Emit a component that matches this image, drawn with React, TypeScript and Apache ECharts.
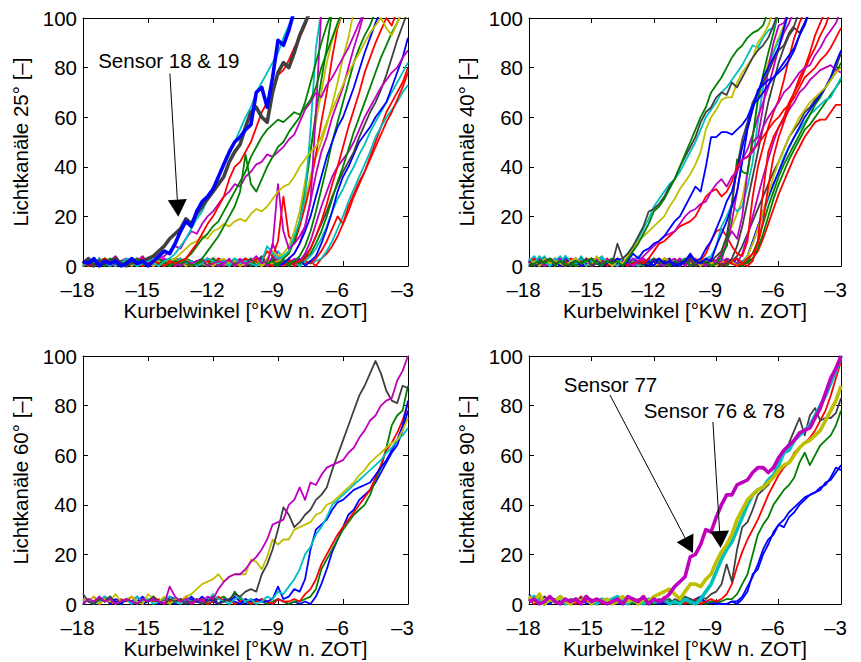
import React, { useEffect, useRef } from "react";
import * as echarts from "echarts";

// Crank-angle sampling of every trace: first sample and step in °KW
const ANGLE_START = -18;
const ANGLE_STEP = 0.25;

const X_MIN = -18;
const X_MAX = -3;
const X_INTERVAL = 3;
const Y_MIN = 0;
const Y_MAX = 100;
const Y_INTERVAL = 20;

const X_NAME = "Kurbelwinkel [°KW n. ZOT]";
const Y_NAMES = ["Lichtkanäle 25° [–]", "Lichtkanäle 40° [–]", "Lichtkanäle 60° [–]", "Lichtkanäle 90° [–]"];

const COLOR = {
  blue: "#0000ff",
  green: "#008000",
  red: "#ff0000",
  cyan: "#00bfbf",
  magenta: "#bf00bf",
  yellow: "#bfbf00",
  gray: "#404040",
};

const FONT = '"Liberation Sans", Arial, Helvetica, sans-serif';
const FONT_SIZE = 20.5;

// ---------- Lichtkanäle 25° ----------
const s18 = [2,1,3,0,2,1,2,0,1,3,1,2,0,2,4,6,5,9,14,18,16,22,26,28,31,36,41,46,50,52,55,57,70,72,64,76,91,89,95,103];
const s19 = [1,3,0,2,1,2,3,1,0,2,1,2,3,4,6,8,11,13,15,19,17,21,24,27,30,33,36,42,46,49,56,62,64,60,58,70,78,82,80,86,93,98,103];
const c25a = [0,2,1,3,1,0,2,1,3,2,0,1,2,1,0,2,3,5,8,11,15,19,22,27,31,36,41,45,50,55,60,64,70,74,78,82,86,92,97,103];
const r25a = [2,0,1,2,3,1,2,0,1,2,0,3,1,2,1,0,2,1,2,3,6,9,13,17,20,24,28,35,40,42,46,50,56,62,66,70,77,79,83,88,92,97,103];
const g25a = [1,2,0,1,3,2,1,0,2,1,3,1,0,2,1,2,0,1,2,3,5,8,11,13,16,18,22,26,30,34,38,44,48,52,55,57,59,58,60,62,61,64,67,72,80,86,92,98,103];
const g25b = [0,1,2,1,0,3,1,2,0,1,2,1,0,2,3,1,0,2,1,2,0,1,3,6,9,12,16,20,24,30,45,33,30,35,40,44,48,50,54,57,60,66,74,82,90,97,103];
const m25a = [2,1,3,1,2,0,1,2,3,1,2,4,1,2,3,4,6,8,7,11,14,13,17,20,22,25,28,30,33,32,36,38,41,42,45,44,46,48,51,53,58,63,66,70,68,73,76,80,84,88,93,98,103];
const y25a = [1,0,2,1,3,2,1,2,0,3,1,2,1,0,2,1,2,3,5,7,9,10,12,11,14,15,17,16,18,19,18,21,23,22,24,27,30,32,33,36,40,43,46,48,52,58,63,68,73,78,82,86,90,94,97,100,96,93,98,103];
const m25b = [1,3,0,2,1,2,4,1,0,2,3,1,2,0,1,3,2,1,0,2,1,2,3,0,1,2,1,3,0,2,1,2,4,1,2,8,33,14,7,9,12,16,26,62,103];
const c25b = [2,0,1,3,1,2,0,2,3,1,0,2,1,4,2,1,0,2,3,1,2,0,1,3,2,1,2,0,3,1,2,1,0,2,8,5,3,4,6,12,18,28,55,88,103];
const g25c = [0,2,1,3,0,1,2,1,0,3,2,1,2,0,1,2,3,1,0,2,1,1,2,0,3,1,2,0,1,2,1,3,0,2,1,2,0,3,5,10,18,30,46,62,75,88,103];
const y25b = [1,2,0,2,3,1,0,2,1,2,0,1,3,2,1,0,2,1,2,3,0,1,2,1,0,2,3,1,2,0,1,2,1,0,3,6,4,5,8,14,22,34,47,58,70,82,91,97,103];
const r25b = [2,1,0,3,1,2,1,0,2,1,3,0,2,1,2,0,1,2,3,1,0,2,1,2,0,3,1,2,1,0,2,1,3,2,6,4,10,28,12,9,16,24,33,45,58,70,84,96,103];
const b25b = [1,0,2,1,3,2,0,1,2,0,3,1,2,1,0,2,1,3,2,0,1,2,1,0,3,1,2,0,2,1,1,3,0,2,1,2,0,1,3,5,9,14,20,28,36,44,50,56,60,66,72,79,86,92,98,103];
const m25c = [2,1,3,0,1,2,1,2,0,3,1,2,0,1,2,3,1,0,2,1,2,0,1,3,2,0,1,2,1,3,0,2,1,2,0,4,2,1,3,5,9,16,26,37,46,52,60,66,72,80,88,95,103];
const g25d = [0,1,2,1,3,0,2,1,2,0,1,3,2,1,0,2,1,2,3,0,1,2,0,1,3,2,1,0,2,1,2,0,3,1,2,1,0,2,1,2,4,8,14,22,31,40,50,58,66,74,82,88,93,97,103];
const r25c = [1,2,0,3,1,2,0,1,2,1,3,0,2,1,2,0,1,2,3,1,0,2,1,3,0,2,1,2,0,1,3,1,2,0,2,1,3,0,2,1,2,3,7,12,18,25,33,40,48,56,63,70,78,84,90,95,100,97,103];
const k25b = [2,0,1,2,3,1,0,2,1,2,0,3,1,2,1,0,2,3,1,2,0,1,2,1,3,0,2,1,2,0,3,1,2,4,1,3,2,1,0,2,1,4,7,12,17,22,28,33,38,42,46,52,57,62,66,71,77,84,91,97,103];
const c25c = [1,2,0,1,3,2,0,2,1,3,1,0,2,1,2,0,3,1,2,0,1,2,1,3,0,1,2,1,0,2,3,1,2,0,1,2,6,3,1,2,0,2,4,7,11,16,22,27,31,36,40,45,49,54,58,62,66,70,74,78,82];
const r25d = [0,2,1,3,1,0,2,1,2,0,1,3,2,0,1,2,1,0,3,1,2,0,2,1,1,3,0,2,1,2,0,1,2,3,1,0,2,1,2,0,1,2,1,3,6,10,15,20,17,24,29,34,38,43,48,53,58,62,67,72,78];
const c25d = [2,1,3,0,2,1,0,2,1,3,2,1,0,2,1,2,3,0,1,2,1,0,2,3,1,2,0,1,3,2,1,0,2,1,2,0,3,1,2,1,0,2,1,2,3,6,10,15,20,26,31,36,41,46,52,56,60,63,66,70,73];
const b25c = [1,0,2,1,3,2,0,1,2,1,0,3,1,2,0,2,1,3,0,1,2,1,0,2,1,3,2,0,1,2,1,0,2,3,1,2,0,1,2,1,3,0,2,4,9,15,22,30,36,40,45,50,53,56,60,63,66,72,78,84,92];
const g25e = [2,1,0,2,1,3,1,2,0,1,2,0,3,1,2,1,0,2,1,3,2,0,1,2,1,0,2,1,3,0,2,1,2,0,1,3,1,2,0,2,1,3,5,9,14,20,27,34,40,47,54,60,66,72,78,84,89,94,98,103];
const r25e = [1,3,0,2,1,2,0,1,3,2,1,0,2,1,2,3,0,1,2,1,0,2,1,3,2,0,1,2,1,0,3,2,1,2,0,1,2,1,3,0,2,1,2,0,3,5,8,12,17,22,28,33,38,44,50,56,62,66,70,74,80];
const m25d = [2,1,0,3,1,2,1,0,2,3,1,2,0,1,2,1,3,0,2,1,2,0,1,3,2,1,0,2,1,2,3,1,0,2,1,9,4,2,1,3,2,5,10,17,24,30,36,40,43,46,50,55,60,64,68,72,75,78,80,84,87];
const y25c = [0,2,1,3,1,0,2,1,2,0,3,1,2,1,0,2,1,3,2,0,1,2,1,0,2,3,1,0,2,1,2,1,3,0,2,1,2,3,6,11,18,26,36,44,50,57,65,74,84,92,103];

// ---------- Lichtkanäle 40° ----------
const y40a = [1,2,0,3,1,2,1,0,2,3,1,2,0,4,1,2,0,2,1,4,7,10,12,14,16,18,20,24,27,31,34,37,41,46,55,60,63,67,68,68,74,78,81,84,90,93,97,103];
const k40a = [2,0,1,2,3,1,2,0,1,2,1,3,0,2,1,2,1,9,3,5,8,12,16,22,23,25,28,32,35,40,44,48,52,58,62,64,68,70,69,74,72,76,80,84,87,89,92,97,103];
const g40a = [0,1,2,1,3,0,2,1,0,2,1,2,3,1,0,2,1,2,0,3,6,9,13,17,22,24,27,31,35,40,45,50,55,60,64,70,73,76,80,84,87,89,92,94,95,97,103];
const c40a = [3,1,4,2,0,3,1,4,2,1,3,0,2,1,3,2,1,0,3,5,8,11,15,19,24,27,30,33,35,38,42,46,50,55,60,63,66,70,72,75,78,81,85,89,88,92,95,96,103];
const b40a = [1,2,0,3,1,2,0,4,1,2,0,1,3,2,0,1,2,1,0,2,5,3,6,7,9,10,12,15,18,20,24,28,32,30,40,52,52,54,54,53,55,57,60,65,67,70,73,76,79,82,85,88,93,97,103];
const m40a = [2,1,0,2,3,1,2,0,1,3,1,2,0,2,1,3,0,1,2,1,0,2,4,6,8,10,12,13,14,17,20,22,23,25,26,30,33,35,32,36,38,43,44,46,50,56,60,63,66,70,72,75,78,80,81,85,88,92,95,98,103];
const r40a = [1,3,0,2,1,2,0,1,3,2,1,0,2,1,3,0,2,1,2,0,1,2,1,3,6,9,10,12,14,16,17,18,20,24,28,30,31,28,30,34,40,43,44,47,49,52,55,58,60,63,65,68,72,76,78,80,83,85,88,92,96];
const b40b = [0,2,1,3,1,0,2,1,2,3,0,1,2,1,0,2,1,3,2,1,0,2,1,2,0,3,1,2,1,0,2,4,2,3,7,10,15,20,26,30,38,48,56,64,71,73,75,76,78,80,83,87,93,98,103];
const k40b = [2,1,0,3,1,2,0,1,2,1,3,0,2,1,2,0,1,3,2,0,1,2,1,0,3,1,2,1,0,2,1,3,0,2,1,2,4,6,12,25,40,51,58,66,70,74,78,83,87,89,94,97,103];
const g40b = [1,0,2,3,1,2,0,2,1,0,3,1,2,1,0,2,3,1,0,2,1,2,0,1,3,2,1,0,2,1,3,0,2,1,2,0,1,4,8,25,43,38,37,52,67,77,86,94,103];
const m40b = [3,1,2,0,1,2,3,1,0,2,1,2,0,3,1,2,1,0,2,1,3,2,0,1,2,1,0,2,3,1,2,0,1,2,1,3,2,5,8,18,30,43,47,53,60,66,72,80,88,94,98,103];
const c40b = [2,4,1,3,0,2,4,1,3,2,0,1,3,2,4,1,0,2,1,3,2,0,1,2,3,1,0,2,1,3,2,0,2,1,3,4,8,16,20,25,22,24,32,42,58,72,80,86,91,95,103];
const y40b = [1,2,0,2,1,3,0,1,2,1,0,2,3,1,2,0,1,2,1,3,0,2,1,2,0,1,3,2,1,0,2,1,2,0,3,1,2,6,11,16,21,27,38,52,67,74,82,87,92,97,103];
const r40b = [2,1,3,0,2,1,2,0,1,3,1,2,0,2,1,3,1,0,2,1,2,0,3,1,2,1,0,2,1,3,0,2,1,2,5,10,14,15,12,8,5,4,10,28,40,48,56,62,67,75,84,92,98,103];
const r40c = [1,0,2,1,3,2,0,1,2,1,0,3,1,2,0,1,2,3,1,0,2,1,2,0,3,1,2,1,0,2,1,3,0,1,2,1,2,0,2,1,0,1,0,2,10,30,46,52,56,60,66,70,74,79,84,88,93,97,103];
const m40c = [2,1,3,0,1,2,0,2,1,3,1,2,0,1,2,1,3,0,2,1,0,2,1,3,2,1,0,2,1,2,3,0,1,2,1,0,2,1,3,2,1,5,12,20,28,36,43,50,56,59,63,66,70,72,75,77,79,80,81,79,78];
const k40c = [1,3,0,2,1,2,1,0,3,2,1,2,0,1,3,2,0,1,2,1,0,2,3,1,2,0,1,2,1,3,0,2,1,2,0,1,2,1,3,2,4,8,13,18,23,28,33,38,42,47,52,55,58,62,64,67,69,72,76,80,86];
const c40c = [3,1,2,4,0,2,3,1,2,0,4,1,3,2,0,2,1,3,1,0,2,4,1,2,0,3,1,2,1,0,2,3,1,2,0,2,1,3,2,1,0,2,4,9,15,21,27,33,38,44,48,52,55,58,61,63,65,67,68,72,76];
const g40c = [0,2,1,3,1,2,0,1,2,0,3,1,2,1,0,2,1,2,3,0,1,2,1,0,2,1,3,2,0,1,2,1,0,3,2,1,2,0,1,2,1,0,2,5,10,17,24,30,36,41,45,49,53,57,61,65,68,72,75,78,82];
const g40d = [1,2,0,1,3,2,1,0,2,1,2,0,3,1,2,0,1,2,1,3,0,2,1,2,0,1,2,3,1,0,2,1,2,0,1,3,1,2,0,2,1,2,1,3,7,13,20,27,33,38,43,47,51,55,57,60,63,66,69,72,75];
const r40d = [2,0,1,3,1,2,0,2,1,0,1,3,2,1,0,2,1,2,3,1,0,2,1,0,2,1,3,0,2,1,2,1,0,3,1,2,0,1,2,1,3,0,2,3,6,11,17,23,29,34,39,44,48,52,55,58,59,59,62,65,65];
const b40c = [2,1,0,2,1,3,0,2,1,2,0,1,3,2,1,0,2,1,2,0,3,1,2,1,0,2,1,3,0,2,1,2,0,1,3,2,1,0,2,1,3,1,4,10,16,22,28,33,38,43,48,52,56,60,63,66,69,72,76,82,87];
const y40c = [0,1,2,3,1,0,2,1,2,0,1,3,2,1,0,2,1,3,0,2,1,2,0,1,2,3,1,0,2,1,2,0,1,3,2,1,0,2,1,2,0,1,4,9,15,22,29,36,42,47,52,56,60,63,66,68,70,72,75,78,80];
const b40d = [1,2,0,3,1,2,1,0,2,1,3,0,2,1,2,0,1,3,2,0,1,2,1,0,2,3,1,2,0,1,2,5,2,1,3,2,8,13,18,24,30,42,55,63,70,76,80,84,88,96,103];
const r40e = [2,1,0,2,1,3,1,0,2,1,2,0,3,1,2,1,0,2,1,3,0,2,1,2,0,1,3,2,1,0,2,1,3,0,2,1,2,0,1,2,3,1,3,5,9,18,32,44,52,58,64,70,76,80,86,93,98,103];
const m40d = [1,2,3,0,1,2,1,3,0,2,1,2,0,1,3,2,0,1,2,1,0,2,3,1,2,1,0,2,1,3,0,2,1,2,0,3,1,2,10,14,11,20,38,50,52,64,80,90,97,98,103];
const k40d = [2,0,1,3,1,2,0,2,1,0,3,1,2,1,0,2,1,2,3,0,1,2,1,0,2,1,3,0,2,1,2,1,0,2,1,3,2,0,1,3,8,16,26,36,46,56,66,74,82,88,93,96,94,98,103];

// ---------- Lichtkanäle 60° ----------
const m60 = [0,2,1,3,1,2,0,1,2,1,0,2,1,2,1,0,7,3,1,2,0,2,1,3,2,6,9,11,12,12,14,17,19,22,26,32,33,34,40,42,47,42,49,48,52,55,56,57,58,61,63,67,70,74,76,80,82,83,90,94,100];
const k60 = [4,1,0,2,1,3,0,1,2,1,0,2,1,3,1,0,2,1,2,0,1,2,0,1,3,0,1,2,4,3,5,6,5,12,16,22,30,39,36,31,33,36,38,42,44,47,54,60,66,72,78,84,88,93,98,93,86,82,81,88,87];
const y60 = [2,1,3,0,2,1,4,1,2,3,1,0,4,2,1,3,0,2,1,3,4,6,8,9,10,12,9,11,12,12,12,18,17,14,19,26,24,26,26,30,31,32,33,36,37,40,41,43,45,47,49,52,54,57,59,61,63,65,66,70,75];
const c60 = [1,2,0,1,3,2,0,1,2,0,3,1,2,0,1,2,3,1,0,2,1,2,0,1,4,2,1,0,2,3,1,2,0,1,3,2,5,4,7,10,14,20,23,28,31,35,40,42,44,46,48,50,52,54,56,58,61,63,66,68,71];
const b60a = [2,1,0,2,1,3,1,0,2,1,3,0,1,2,1,0,3,2,1,0,2,1,3,1,2,0,1,2,1,0,2,1,2,1,1,2,7,2,3,6,5,10,22,30,32,34,38,41,42,44,46,47,48,49,52,55,58,62,66,72,82];
const b60b = [0,2,1,1,3,0,2,1,2,0,1,3,1,2,0,2,1,0,2,1,3,1,0,2,1,0,2,1,3,1,0,2,1,2,1,0,2,1,0,1,0,1,0,3,8,14,21,26,31,36,38,42,44,46,49,53,57,61,64,70,78];
const r60 = [2,1,3,0,2,1,0,2,1,3,1,0,2,1,2,0,1,2,1,3,0,1,2,0,1,3,1,2,0,1,2,0,1,2,1,0,2,1,1,2,1,4,6,10,16,20,24,28,31,34,37,40,43,46,51,56,62,65,69,74,81];
const g60 = [1,2,0,3,1,2,1,0,2,1,0,2,1,3,1,2,0,1,2,1,0,2,1,0,1,2,3,1,5,2,1,0,2,1,0,1,2,1,0,1,1,2,3,6,14,18,22,26,30,33,36,38,40,44,50,55,63,72,76,78,88];

// ---------- Lichtkanäle 90° ----------
const s77 = [1,2,0,1,3,1,0,2,1,2,0,3,1,2,1,0,1,2,0,3,2,1,3,0,2,1,2,4,7,9,11,19,20,24,30,29,35,40,44,44,48,49,50,53,55,55,53,55,59,62,64,66,69,70,71,75,79,85,91,95,100];
const s76 = [3,1,4,0,2,1,3,1,0,2,1,3,0,2,1,2,0,1,3,1,2,0,2,1,3,4,5,6,4,2,5,8,8,7,10,12,17,21,24,28,34,38,42,44,46,47,49,51,54,56,57,60,63,65,66,68,70,74,78,82,88];
const s78 = [2,3,1,0,2,1,3,0,1,2,1,3,1,0,2,1,2,3,1,0,2,1,0,2,1,1,2,0,1,0,2,1,0,2,5,8,13,18,22,25,30,35,40,44,46,47,50,52,56,61,62,66,68,70,72,76,80,84,89,94,100];
const k90 = [1,2,0,3,1,2,1,0,2,1,2,3,1,2,0,1,2,2,1,0,2,1,3,0,1,2,1,0,2,1,3,2,1,3,2,4,5,8,16,9,22,31,33,38,44,46,48,52,57,61,65,70,75,68,76,79,74,75,75,77,83];
const r90 = [2,0,1,3,1,2,0,2,1,0,3,1,2,1,0,2,1,3,0,2,1,2,0,1,2,1,3,0,1,2,0,1,2,0,1,2,1,2,4,8,15,21,26,30,34,39,44,48,52,55,57,61,63,65,67,70,74,78,84,91,98];
const g90 = [3,1,4,0,2,1,3,2,0,2,1,3,0,1,2,1,0,2,1,2,0,1,3,1,0,2,1,2,0,1,1,0,2,1,0,1,1,1,2,2,4,8,12,20,28,32,35,40,43,46,48,51,57,61,56,60,64,66,68,72,78];
const b90a = [4,1,2,0,3,1,0,2,1,0,1,2,0,1,2,1,0,2,1,1,0,1,2,0,2,1,0,1,0,2,1,0,2,3,0,1,0,0,0,1,1,3,7,11,16,22,26,28,32,34,37,39,41,43,44,45,47,48,51,55,54];
const b90b = [2,0,3,1,0,2,1,0,2,1,3,0,1,2,0,1,2,0,1,2,0,1,0,2,1,0,1,2,0,1,0,2,1,2,1,0,1,0,0,1,0,2,5,12,14,20,24,29,32,31,35,37,40,42,44,45,46,49,50,53,56];

type Trace = { color: string; values: number[]; bold?: boolean };

const PANEL_TRACES: Trace[][] = [
  [
    { color: COLOR.red, values: r25e }, { color: COLOR.cyan, values: c25d }, { color: COLOR.red, values: r25d },
    { color: COLOR.cyan, values: c25c }, { color: COLOR.blue, values: b25c }, { color: COLOR.gray, values: k25b },
    { color: COLOR.magenta, values: m25d }, { color: COLOR.green, values: g25e }, { color: COLOR.red, values: r25c },
    { color: COLOR.green, values: g25d }, { color: COLOR.magenta, values: m25c }, { color: COLOR.blue, values: b25b },
    { color: COLOR.yellow, values: y25c }, { color: COLOR.red, values: r25b }, { color: COLOR.yellow, values: y25b },
    { color: COLOR.green, values: g25c }, { color: COLOR.cyan, values: c25b }, { color: COLOR.magenta, values: m25b },
    { color: COLOR.yellow, values: y25a }, { color: COLOR.magenta, values: m25a }, { color: COLOR.green, values: g25b },
    { color: COLOR.green, values: g25a }, { color: COLOR.red, values: r25a }, { color: COLOR.cyan, values: c25a },
    { color: COLOR.gray, values: s19, bold: true }, { color: COLOR.blue, values: s18, bold: true },
  ],
  [
    { color: COLOR.red, values: r40d }, { color: COLOR.green, values: g40d }, { color: COLOR.cyan, values: c40c },
    { color: COLOR.green, values: g40c }, { color: COLOR.gray, values: k40c }, { color: COLOR.magenta, values: m40c },
    { color: COLOR.blue, values: b40c }, { color: COLOR.yellow, values: y40c }, { color: COLOR.red, values: r40e },
    { color: COLOR.red, values: r40c }, { color: COLOR.gray, values: k40d }, { color: COLOR.red, values: r40b },
    { color: COLOR.yellow, values: y40b }, { color: COLOR.cyan, values: c40b }, { color: COLOR.magenta, values: m40b },
    { color: COLOR.magenta, values: m40d }, { color: COLOR.green, values: g40b }, { color: COLOR.gray, values: k40b },
    { color: COLOR.blue, values: b40d }, { color: COLOR.blue, values: b40b }, { color: COLOR.red, values: r40a },
    { color: COLOR.magenta, values: m40a }, { color: COLOR.blue, values: b40a }, { color: COLOR.cyan, values: c40a },
    { color: COLOR.yellow, values: y40a }, { color: COLOR.gray, values: k40a }, { color: COLOR.green, values: g40a },
  ],
  [
    { color: COLOR.blue, values: b60b }, { color: COLOR.green, values: g60 }, { color: COLOR.red, values: r60 },
    { color: COLOR.blue, values: b60a }, { color: COLOR.cyan, values: c60 }, { color: COLOR.yellow, values: y60 },
    { color: COLOR.gray, values: k60 }, { color: COLOR.magenta, values: m60 },
  ],
  [
    { color: COLOR.blue, values: b90a }, { color: COLOR.blue, values: b90b }, { color: COLOR.green, values: g90 },
    { color: COLOR.red, values: r90 }, { color: COLOR.gray, values: k90 },
    { color: COLOR.cyan, values: s78, bold: true }, { color: COLOR.yellow, values: s76, bold: true },
    { color: COLOR.magenta, values: s77, bold: true },
  ],
];

// Annotation anchors in data coordinates (°KW, channel value)
const SENSOR_LABELS = [
  { panel: 0, text: "Sensor 18 & 19", at: [-17.3, 83] },
  { panel: 3, text: "Sensor 77", at: [-16.33, 88.7] },
  { panel: 3, text: "Sensor 76 & 78", at: [-12.49, 78.2] },
];
const SENSOR_ARROWS = [
  { panel: 0, from: [-13.99, 77.6], to: [-13.6, 19.9] },
  { panel: 3, from: [-14.11, 84.3], to: [-10.12, 20.6] },
  { panel: 3, from: [-9.16, 73.4], to: [-8.79, 22.6] },
];

const GRIDS = [
  { left: 83, top: 18, width: 325, height: 248 },
  { left: 529, top: 18, width: 324, height: 248 },
  { left: 83, top: 356, width: 325, height: 248 },
  { left: 529, top: 356, width: 324, height: 248 },
];

const black = { color: "#000", width: 1 };
const tickText = (v: number) => (v < 0 ? "–" + Math.abs(v) : String(v));

function buildOption() {
  const xAxis: any[] = [];
  const yAxis: any[] = [];
  const series: any[] = [];
  PANEL_TRACES.forEach((traces, k) => {
    const xCommon = {
      gridIndex: k, type: "value", min: X_MIN, max: X_MAX, interval: X_INTERVAL,
      axisLine: { show: true, onZero: false, lineStyle: black },
      axisTick: { show: true, inside: true, length: 5, lineStyle: black },
      splitLine: { show: false },
    };
    const yCommon = {
      gridIndex: k, type: "value", min: Y_MIN, max: Y_MAX, interval: Y_INTERVAL,
      axisLine: { show: true, onZero: false, lineStyle: black },
      axisTick: { show: true, inside: true, length: 5, lineStyle: black },
      splitLine: { show: false },
    };
    xAxis.push({
      ...xCommon, position: "bottom",
      axisLabel: {
        formatter: tickText, color: "#000", fontSize: FONT_SIZE, fontFamily: FONT,
        lineHeight: 16, margin: 15, padding: [0, 11, 0, 0],
      },
      name: X_NAME, nameLocation: "middle", nameGap: 33,
      nameTextStyle: { color: "#000", fontSize: FONT_SIZE, fontFamily: FONT },
    });
    xAxis.push({ ...xCommon, position: "top", axisLabel: { show: false } });
    yAxis.push({
      ...yCommon, position: "left",
      axisLabel: {
        color: "#000", fontSize: FONT_SIZE, fontFamily: FONT, lineHeight: 16, margin: 6,
        padding: [0, 0, 2, 0],
      },
      name: Y_NAMES[k], nameLocation: "middle", nameGap: 52, nameRotate: 90,
      nameTextStyle: { color: "#000", fontSize: FONT_SIZE, fontFamily: FONT },
    });
    yAxis.push({ ...yCommon, position: "right", axisLabel: { show: false } });
    traces.forEach((t) => {
      series.push({
        type: "line",
        xAxisIndex: 2 * k,
        yAxisIndex: 2 * k,
        data: t.values.map((v, i) => [ANGLE_START + i * ANGLE_STEP, v]),
        showSymbol: false,
        symbol: "none",
        clip: true,
        silent: true,
        z: t.bold ? 3 : 2,
        lineStyle: { color: t.color, width: t.bold ? 3.6 : 1.8, join: "round" },
        itemStyle: { color: t.color },
      });
    });
  });
  return {
    animation: false,
    backgroundColor: "#fff",
    grid: GRIDS.map((g) => ({ ...g, containLabel: false })),
    xAxis,
    yAxis,
    series,
  };
}

export default function App() {
  const ref = useRef<HTMLDivElement>(null);
  useEffect(() => {
    if (!ref.current) return;
    const chart = echarts.init(ref.current, undefined, { renderer: "svg" });
    chart.setOption(buildOption() as any);

    const toPx = (panel: number, pt: number[]) =>
      chart.convertToPixel({ xAxisIndex: 2 * panel, yAxisIndex: 2 * panel } as any, pt) as unknown as number[];

    const graphic: any[] = [];
    SENSOR_LABELS.forEach((l) => {
      const [x, y] = toPx(l.panel, l.at);
      graphic.push({
        type: "text", x, y, z: 100, silent: true,
        style: {
          text: l.text, fill: "#000", fontSize: FONT_SIZE, fontFamily: FONT,
          align: "left", verticalAlign: "middle", textAlign: "left", textVerticalAlign: "middle",
        },
      });
    });
    const HEAD_LEN = 17;
    const HEAD_HALF = 9.5;
    SENSOR_ARROWS.forEach((a) => {
      const [x1, y1] = toPx(a.panel, a.from);
      const [x2, y2] = toPx(a.panel, a.to);
      const len = Math.hypot(x2 - x1, y2 - y1);
      const dx = (x2 - x1) / len;
      const dy = (y2 - y1) / len;
      const bx = x2 - dx * HEAD_LEN;
      const by = y2 - dy * HEAD_LEN;
      graphic.push({
        type: "line", z: 100, silent: true,
        shape: { x1, y1, x2: bx, y2: by },
        style: { stroke: "#000", lineWidth: 1 },
      });
      graphic.push({
        type: "polygon", z: 100, silent: true,
        shape: { points: [[x2, y2], [bx - dy * HEAD_HALF, by + dx * HEAD_HALF], [bx + dy * HEAD_HALF, by - dx * HEAD_HALF]] },
        style: { fill: "#000" },
      });
    });
    chart.setOption({ graphic });

    return () => chart.dispose();
  }, []);
  return (
    <div
      ref={ref}
      style={{ position: "fixed", left: 0, top: 0, width: 861, height: 662, background: "#fff" }}
    />
  );
}
